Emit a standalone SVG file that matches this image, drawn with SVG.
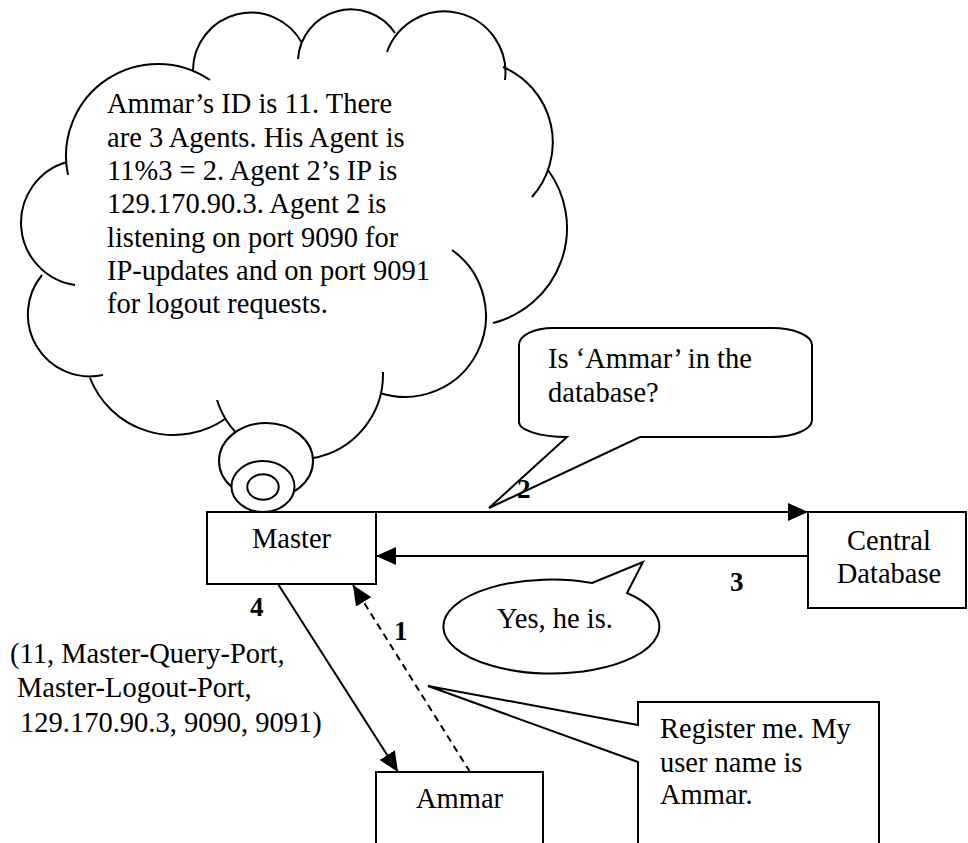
<svg xmlns="http://www.w3.org/2000/svg" width="968" height="843" viewBox="0 0 968 843">
<style>
.ln{fill:none;stroke:#000;stroke-width:2}
.sh{fill:#fff;stroke:#000;stroke-width:2}
.t{font-family:"Liberation Serif","Times New Roman",serif;font-size:28.5px;fill:#000}
.b{font-family:"Liberation Serif","Times New Roman",serif;font-size:27px;font-weight:bold;fill:#000}
</style>
<defs>
<marker id="ah" markerUnits="userSpaceOnUse" markerWidth="20" markerHeight="18" viewBox="0 0 20 18" refX="20" refY="9" orient="auto">
<path d="M0,0 L20,9 L0,18 Z" fill="#000"/>
</marker>
</defs>
<g id="thought">
<path class="ln" d="M103,375 A62,62 0 0 1 42,275 M75,285 A63,63 0 0 1 67,162 M68,175 A92,92 0 0 1 210,80 M193,70 A58,58 0 0 1 302,43 M298,59 A53,53 0 0 1 395,33 M387,52 A61,61 0 0 1 505,80 M503,67 A82,82 0 0 1 532,197 M548,170 A98,98 0 0 1 493,323 M452,250 A81,81 0 0 1 380,393 M383,372 A85,85 0 0 1 217,400 M225,419 A90,90 0 0 1 90,378"/>
<ellipse class="sh" cx="266" cy="461" rx="47" ry="38"/>
<ellipse class="sh" cx="263" cy="486.5" rx="31.5" ry="25.5"/>
<ellipse class="sh" cx="263" cy="487" rx="15.7" ry="12.8"/>
<text class="t" x="107" y="113">Ammar’s ID is 11. There</text>
<text class="t" x="107" y="146.5">are 3 Agents. His Agent is</text>
<text class="t" x="107" y="180">11%3 = 2. Agent 2’s IP is</text>
<text class="t" x="107" y="213">129.170.90.3. Agent 2 is</text>
<text class="t" x="107" y="246.5">listening on port 9090 for</text>
<text class="t" x="107" y="280">IP-updates and on port 9091</text>
<text class="t" x="107" y="313">for logout requests.</text>
</g>
<g id="master">
<rect class="sh" x="207" y="512" width="169" height="72"/>
<text class="t" x="291.5" y="548" text-anchor="middle">Master</text>
</g>
<g id="database">
<rect class="sh" x="808" y="512" width="158" height="96"/>
<text class="t" x="889" y="550" text-anchor="middle">Central</text>
<text class="t" x="889" y="583" text-anchor="middle">Database</text>
</g>
<g id="ammar">
<rect class="sh" x="376" y="772" width="167" height="90"/>
<text class="t" x="459.5" y="808" text-anchor="middle">Ammar</text>
</g>
<g id="query-callout">
<path class="sh" d="M553,328 H772 A40,17 0 0 1 812,345 V420 A40,17 0 0 1 772,437 H640 L489,508 L567,437 A48,15 0 0 1 519,422 V345 A34,17 0 0 1 553,328 Z"/>
<text class="t" x="548" y="368">Is ‘Ammar’ in the</text>
<text class="t" x="548" y="402">database?</text>
</g>
<g id="reply-callout">
<path class="sh" d="M592,583 L643,562 L627,593 A108,47 0 1 1 592,583 Z"/>
<text class="t" x="555" y="628" text-anchor="middle">Yes, he is.</text>
</g>
<g id="register-callout">
<path class="sh" d="M638,762 L428,686 L638,725 V702 H879 V860 H638 Z"/>
<text class="t" x="660" y="738">Register me. My</text>
<text class="t" x="660" y="772">user name is</text>
<text class="t" x="660" y="804">Ammar.</text>
</g>
<g id="connectors">
<path class="ln" d="M376,512 H808" marker-end="url(#ah)"/>
<path class="ln" d="M808,556 H376" marker-end="url(#ah)"/>
<path class="ln" d="M278,584 L398,772" marker-end="url(#ah)"/>
<path class="ln" d="M470,772 L353,585" stroke-dasharray="7,5" marker-end="url(#ah)"/>
<text class="b" x="517" y="498">2</text>
<text class="b" x="730" y="591">3</text>
<text class="b" x="250" y="616">4</text>
<text class="b" x="394" y="640">1</text>
</g>
<g id="payload">
<text class="t" x="10" y="663">(11, Master-Query-Port,</text>
<text class="t" x="17" y="697">Master-Logout-Port,</text>
<text class="t" x="20" y="732">129.170.90.3, 9090, 9091)</text>
</g>
</svg>
